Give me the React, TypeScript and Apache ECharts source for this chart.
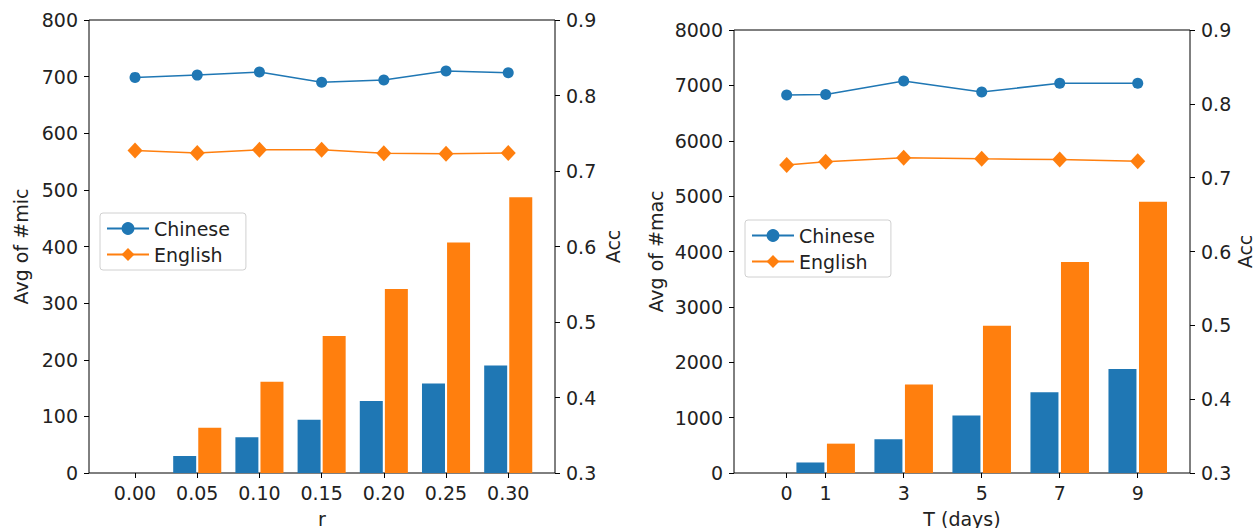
import React, { useEffect, useRef } from "react";
import * as echarts from "echarts";

const rValues = [0, 0.05, 0.1, 0.15, 0.2, 0.25, 0.3];
const micChinese = [0, 30, 63, 94, 127, 158, 190];
const micEnglish = [0, 80, 161, 242, 325, 407, 487];
const accChineseR = [0.824, 0.827, 0.831, 0.8175, 0.8205, 0.8325, 0.83];
const accEnglishR = [0.727, 0.724, 0.728, 0.728, 0.7235, 0.723, 0.724];

const tValues = [0, 1, 3, 5, 7, 9];
const macChinese = [0, 190, 610, 1040, 1460, 1880];
const macEnglish = [0, 530, 1600, 2660, 3810, 4900];
const accChineseT = [0.812, 0.8125, 0.831, 0.816, 0.828, 0.828];
const accEnglishT = [0.717, 0.7215, 0.727, 0.7255, 0.7245, 0.7222];

const BLUE = "#1f77b4";
const ORANGE = "#ff7f0e";
const TEXT = "#222";
const FONT = "DejaVu Sans";
const FS = 19;

const pairs = (xs: number[], ys: number[]) => xs.map((x, i) => [x, ys[i]]);

export default function App() {
  const ref = useRef<HTMLDivElement>(null);
  useEffect(() => {
    if (!ref.current) return;
    const chart = echarts.init(ref.current, null, { renderer: "svg" });
    const tick = { show: true, length: 5, lineStyle: { color: "#000", width: 1 } };
    const label = { color: TEXT, fontSize: FS, fontFamily: FONT };
    const nameStyle = { color: TEXT, fontSize: FS, fontFamily: FONT };
    const noLine = { show: false, onZero: false };
    const legendBase = {
      orient: "vertical",
      itemWidth: 42,
      itemHeight: 16,
      itemGap: 7,
      padding: [6, 16, 6, 6],
      borderColor: "#d0d0d0",
      borderWidth: 1,
      borderRadius: 3,
      backgroundColor: "rgba(255,255,255,0.8)",
      textStyle: { color: TEXT, fontSize: FS, fontFamily: FONT },
      data: ["Chinese", "English"],
      selectedMode: false,
    };
    const lineSeries = (name: string, xAxisIndex: number, yAxisIndex: number, data: number[][], color: string, symbol: string, size: any) => ({
      type: "line",
      name,
      xAxisIndex,
      yAxisIndex,
      data,
      symbol,
      symbolSize: size,
      lineStyle: { color, width: 1.5 },
      itemStyle: { color },
      z: 5,
    });
    const barSeries = (name: string, xAxisIndex: number, yAxisIndex: number, data: number[][], color: string, w: number) => ({
      type: "bar",
      name,
      xAxisIndex,
      yAxisIndex,
      data,
      barWidth: w,
      barGap: "9%",
      itemStyle: { color },
      z: 2,
    });
    const option: any = {
      animation: false,
      textStyle: { fontFamily: FONT },
      grid: [
        { left: 89, top: 20, width: 466, height: 453, show: true, borderColor: "#000", borderWidth: 1, outerBoundsMode: "none" },
        { left: 734, top: 30, width: 456, height: 443, show: true, borderColor: "#000", borderWidth: 1, outerBoundsMode: "none" },
      ],
      legend: [
        { ...legendBase, left: 100, top: 213 },
        { ...legendBase, left: 745, top: 220 },
      ],
      xAxis: [
        {
          type: "value",
          gridIndex: 0,
          min: -0.037,
          max: 0.3376,
          name: "r",
          nameLocation: "middle",
          nameGap: 36,
          nameTextStyle: nameStyle,
          axisLine: noLine,
          splitLine: { show: false },
          axisTick: { ...tick, customValues: rValues },
          axisLabel: { ...label, margin: 10, customValues: rValues, formatter: (v: number) => v.toFixed(2) },
        },
        {
          type: "value",
          gridIndex: 1,
          min: -1.35,
          max: 10.34,
          name: "T (days)",
          nameLocation: "middle",
          nameGap: 36,
          nameTextStyle: nameStyle,
          axisLine: noLine,
          splitLine: { show: false },
          axisTick: { ...tick, customValues: tValues },
          axisLabel: { ...label, margin: 10, customValues: tValues, formatter: (v: number) => String(v) },
        },
      ],
      yAxis: [
        {
          type: "value",
          gridIndex: 0,
          min: 0,
          max: 800,
          interval: 100,
          name: "Avg of #mic",
          nameLocation: "middle",
          nameGap: 59,
          nameRotate: 90,
          nameTextStyle: nameStyle,
          axisLine: noLine,
          splitLine: { show: false },
          axisTick: tick,
          axisLabel: { ...label, margin: 11, formatter: (v: number) => String(v) },
        },
        {
          type: "value",
          gridIndex: 0,
          position: "right",
          min: 0.3,
          max: 0.9,
          interval: 0.1,
          name: "Acc",
          nameLocation: "middle",
          nameGap: 48,
          nameRotate: 90,
          nameTextStyle: nameStyle,
          axisLine: noLine,
          splitLine: { show: false },
          axisTick: tick,
          axisLabel: { ...label, margin: 11, formatter: (v: number) => v.toFixed(1) },
        },
        {
          type: "value",
          gridIndex: 1,
          min: 0,
          max: 8000,
          interval: 1000,
          name: "Avg of #mac",
          nameLocation: "middle",
          nameGap: 69,
          nameRotate: 90,
          nameTextStyle: nameStyle,
          axisLine: noLine,
          splitLine: { show: false },
          axisTick: tick,
          axisLabel: { ...label, margin: 11, formatter: (v: number) => String(v) },
        },
        {
          type: "value",
          gridIndex: 1,
          position: "right",
          min: 0.3,
          max: 0.9,
          interval: 0.1,
          name: "Acc",
          nameLocation: "middle",
          nameGap: 45,
          nameRotate: 90,
          nameTextStyle: nameStyle,
          axisLine: noLine,
          splitLine: { show: false },
          axisTick: tick,
          axisLabel: { ...label, margin: 11, formatter: (v: number) => v.toFixed(1) },
        },
      ],
      series: [
        barSeries("Chinese #mic", 0, 0, pairs(rValues, micChinese), BLUE, 23),
        barSeries("English #mic", 0, 0, pairs(rValues, micEnglish), ORANGE, 23),
        lineSeries("Chinese", 0, 1, pairs(rValues, accChineseR), BLUE, "circle", 11),
        lineSeries("English", 0, 1, pairs(rValues, accEnglishR), ORANGE, "diamond", [15, 16]),
        barSeries("Chinese #mac", 1, 2, pairs(tValues, macChinese), BLUE, 28),
        barSeries("English #mac", 1, 2, pairs(tValues, macEnglish), ORANGE, 28),
        lineSeries("Chinese", 1, 3, pairs(tValues, accChineseT), BLUE, "circle", 11),
        lineSeries("English", 1, 3, pairs(tValues, accEnglishT), ORANGE, "diamond", [15, 16]),
      ],
    };
    chart.setOption(option);
    return () => chart.dispose();
  }, []);
  return (
    <div
      ref={ref}
      style={{ position: "fixed", left: 0, top: 0, width: 1258, height: 528, background: "#fff" }}
    />
  );
}
